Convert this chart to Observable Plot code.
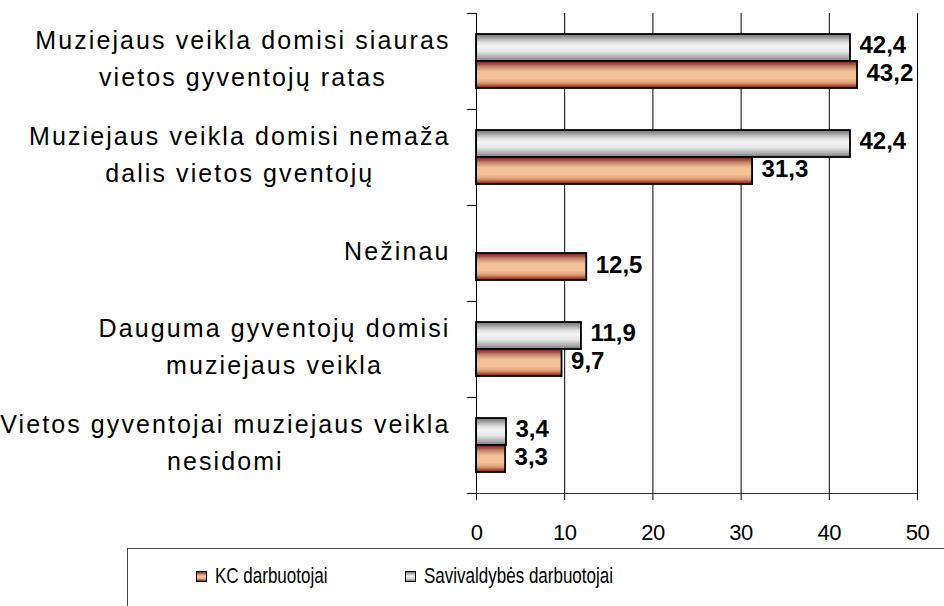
<!DOCTYPE html>
<html>
<head>
<meta charset="utf-8">
<script src="https://cdn.jsdelivr.net/npm/d3@7"></script>
<script src="https://cdn.jsdelivr.net/npm/@observablehq/plot@0.6"></script>
<style>
  body { margin: 0; background: #fff; font-family: "Liberation Sans", Arial, sans-serif; }
  #wrap { position: relative; width: 944px; height: 606px; overflow: hidden; background: #fff; }
  #chart { position: absolute; left: 0; top: 0; }
  #legend { position: absolute; left: 127px; top: 548px; width: 900px; height: 120px; border: 1px solid #444; box-sizing: border-box; }
  .item { position: absolute; top: 16px; height: 22px; display: flex; align-items: center; font-size: 17px; color: #000; white-space: nowrap; }
  .sw { width: 9px; height: 9px; border: 1.5px solid #000; margin-right: 8px; display: inline-block; }
  .lt { display: inline-block; transform: scaleY(1.35); }
</style>
</head>
<body>
<div id="wrap">
  <div id="chart"></div>
  <div id="legend"></div>
</div>
<script>
// ---- data ----
const categories = [
  "Muziejaus veikla domisi siauras\nvietos gyventojų ratas",
  "Muziejaus veikla domisi nemaža\ndalis vietos gventojų",
  "Nežinau",
  "Dauguma gyventojų domisi\nmuziejaus veikla",
  "Vietos gyventojai muziejaus veikla\nnesidomi"
];
const seriesNames = ["KC darbuotojai", "Savivaldybės darbuotojai"];
const kcValues = [43.2, 31.3, 12.5, 9.7, 3.3];
const savivaldybesValues = [42.4, 42.4, null, 11.9, 3.4];
const xTicks = [0, 10, 20, 30, 40, 50];

// ---- tables ----
const rowsKC = categories.map((c, i) => ({category: c, value: kcValues[i]})).filter(d => d.value != null);
const rowsSav = categories.map((c, i) => ({category: c, value: savivaldybesValues[i]})).filter(d => d.value != null);
const fmt = v => String(v).replace(".", ",");
const lastCat = categories[categories.length - 1];

const plot = Plot.plot({
  width: 944,
  height: 545,
  marginLeft: 476,
  marginRight: 27,
  marginTop: 13,
  marginBottom: 52,
  style: { fontFamily: '"Liberation Sans", Arial, sans-serif', background: "transparent", color: "#000" },
  x: { domain: [0, 50], label: null },
  y: { domain: categories, padding: 0, label: null },
  marks: [
    Plot.gridX(xTicks, { stroke: "#000", strokeOpacity: 1, strokeWidth: 1 }),
    Plot.barX(rowsSav, { x: "value", y: "category", fill: "url(#gradSav)", stroke: "#000", strokeWidth: 1.8, insetTop: 21, insetBottom: 48 }),
    Plot.barX(rowsKC, { x: "value", y: "category", fill: "url(#gradKC)", stroke: "#000", strokeWidth: 1.8, insetTop: 48, insetBottom: 21 }),
    Plot.text(rowsSav, { x: "value", y: "category", text: d => fmt(d.value), dx: 9, dy: -16, textAnchor: "start", fontWeight: "bold", fontSize: 24, fill: "#000" }),
    Plot.text(rowsKC, { x: "value", y: "category", text: d => fmt(d.value), dx: 9, dy: 12, textAnchor: "start", fontWeight: "bold", fontSize: 24, fill: "#000" }),
    Plot.ruleX([0], { stroke: "#000", strokeWidth: 1 }),
    Plot.frame({ anchor: "bottom", stroke: "#333", strokeWidth: 1.2 }),
    Plot.axisX({ ticks: xTicks, tickSize: 7, tickPadding: 24, fontSize: 22, tickFormat: d => String(d), label: null }),
    Plot.axisY({ ticks: categories, tickSize: 9, tickFormat: () => "", dy: -48, label: null }),
    Plot.axisY({ ticks: [lastCat], tickSize: 9, tickFormat: () => "", dy: 48, label: null }),
    Plot.axisY({ ticks: categories, tickSize: 0, tickPadding: 26, fontSize: 25, lineHeight: 1.5, dy: -6, tickFormat: d => d, label: null })
  ]
});
document.getElementById("chart").appendChild(plot);

// gradients for the bar fills
const svg = d3.select(plot);
const defs = svg.insert("defs", ":first-child");
function grad(id, stops) {
  const g = defs.append("linearGradient").attr("id", id).attr("x1", 0).attr("y1", 0).attr("x2", 0).attr("y2", 1);
  stops.forEach(([o, c]) => g.append("stop").attr("offset", o).attr("stop-color", c));
}
grad("gradKC", [[0, "#7e2216"], [0.1, "#9c4a38"], [0.22, "#c88c70"], [0.4, "#f2c295"], [0.65, "#f4c597"], [0.82, "#d89a74"], [0.92, "#a24a36"], [1, "#7e2216"]]);
grad("gradSav", [[0, "#6e6e6e"], [0.12, "#9a9a9a"], [0.3, "#dcdcdc"], [0.45, "#f4f4f4"], [0.65, "#e6e6e6"], [0.85, "#b0b0b0"], [1, "#7a7a7a"]]);

// category labels: letter spacing, lines centred within each right-aligned block
svg.selectAll("text").each(function () {
  const t = d3.select(this);
  const content = this.textContent;
  const isCat = categories.some(c => c.replace("\n", "") === content);
  if (!isCat) return;
  t.style("letter-spacing", "2.1px");
  const nodes = t.selectAll("tspan").nodes();
  if (nodes.length > 1) {
    const widths = nodes.map(n => n.getComputedTextLength());
    const W = Math.max(...widths);
    nodes.forEach((n, i) => d3.select(n).attr("x", -(W - widths[i]) / 2));
  }
});
// taller digits on the x axis, as in the reference
svg.selectAll("text").each(function () {
  const s = this.textContent;
  if (xTicks.map(String).includes(s)) {
    d3.select(this).style("letter-spacing", "-0.5px");
  }
});

// legend
const legend = d3.select("#legend");
const swatchBg = {
  "KC darbuotojai": "linear-gradient(#7e2216 0%, #c88c70 25%, #f3c396 45%, #f3c396 65%, #c07050 85%, #7e2216 100%)",
  "Savivaldybės darbuotojai": "linear-gradient(#777 0%, #cfcfcf 30%, #f2f2f2 50%, #cfcfcf 75%, #808080 100%)"
};
const legendLeft = [68, 277];
seriesNames.forEach((name, i) => {
  const it = legend.append("div").attr("class", "item").style("left", legendLeft[i] + "px");
  it.append("span").attr("class", "sw").style("background", swatchBg[name]);
  it.append("span").attr("class", "lt").text(name);
});
</script>
</body>
</html>
